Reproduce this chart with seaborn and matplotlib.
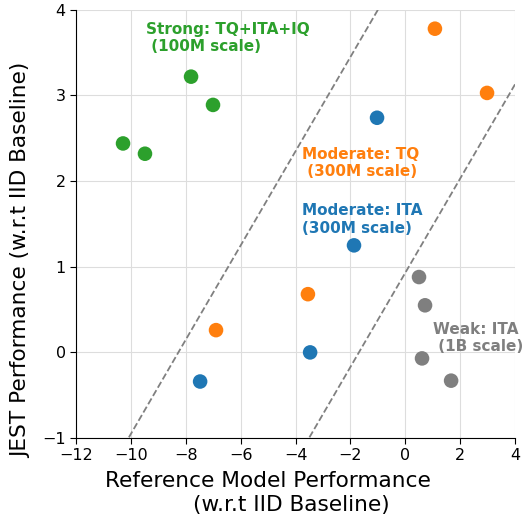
import matplotlib
matplotlib.use("Agg")
import matplotlib.pyplot as plt
import seaborn as sns
import numpy as np
import pandas as pd

groups = ["Strong", "Moderate TQ", "Moderate ITA", "Weak"]
strong_x = [-10.29, -9.49, -7.81, -7.01]
strong_y = [2.44, 2.32, 3.22, 2.89]
tq_x = [1.08, 2.98, -3.55, -6.90]
tq_y = [3.78, 3.03, 0.68, 0.26]
ita_x = [-1.03, -1.87, -3.47, -7.48]
ita_y = [2.74, 1.25, 0.00, -0.34]
weak_x = [0.50, 0.72, 0.61, 1.67]
weak_y = [0.88, 0.55, -0.07, -0.33]

line_slope = 0.55
line_intercepts = [4.55, 0.93]

labels = ["Strong: TQ+ITA+IQ\n (100M scale)", "Moderate: TQ\n (300M scale)",
          "Moderate: ITA\n(300M scale)", "Weak: ITA\n (1B scale)"]
colors = ["#2ca02c", "#ff7f0e", "#1f77b4", "#7f7f7f"]

df = pd.DataFrame({
    "x": strong_x + tq_x + ita_x + weak_x,
    "y": strong_y + tq_y + ita_y + weak_y,
    "g": [groups[0]] * 4 + [groups[1]] * 4 + [groups[2]] * 4 + [groups[3]] * 4,
})

sns.set_style("white")
plt.rcParams['font.family'] = ['DejaVu Sans']
plt.rcParams['text.color'] = 'black'
plt.rcParams['axes.labelcolor'] = 'black'
plt.rcParams['xtick.color'] = 'black'
plt.rcParams['ytick.color'] = 'black'
plt.rcParams['axes.edgecolor'] = 'black'
fig, ax = plt.subplots(figsize=(5.25, 5.19), dpi=100)
sns.scatterplot(data=df, x="x", y="y", hue="g", palette=colors, s=110,
                edgecolor="none", legend=False, ax=ax, zorder=3)

xs = np.array([-12, 4])
for b in line_intercepts:
    ax.plot(xs, line_slope * xs + b, ls="--", color="gray", lw=1.3, zorder=2)

ax.set_xlim(-12, 4)
ax.set_ylim(-1, 4)
ax.set_xticks(np.arange(-12, 5, 2))
ax.set_yticks(np.arange(-1, 5, 1))
ax.grid(True, color="#dddddd", lw=0.8, zorder=0)
ax.set_axisbelow(True)
for s in ["top", "right"]:
    ax.spines[s].set_visible(False)
ax.tick_params(axis="both", labelsize=11.5, length=4, direction="out", bottom=True, left=True)
ax.set_xlabel("Reference Model Performance" + " " * 7 + "\n(w.r.t IID Baseline)", fontsize=15.6)
ax.xaxis.set_label_coords(0.491, -0.078, transform=ax.transAxes)
ax.xaxis.label.set_va("top")
ax.set_ylabel("JEST Performance (w.r.t IID Baseline)", fontsize=15.6)
ax.yaxis.set_label_coords(-0.1253, 0.416, transform=ax.transAxes)
ax.yaxis.label.set_va("center")

ax.text(-9.45, 3.67, labels[0], color=colors[0], fontsize=11, fontweight="bold", va="center", ha="left")
ax.text(-3.76, 2.21, labels[1], color=colors[1], fontsize=11, fontweight="bold", va="center", ha="left")
ax.text(-3.76, 1.55, labels[2], color=colors[2], fontsize=11, fontweight="bold", va="center", ha="left")
ax.text(1.01, 0.17, labels[3], color=colors[3], fontsize=11, fontweight="bold", va="center", ha="left")

fig.subplots_adjust(left=0.145, right=0.981, top=0.981, bottom=0.156)
fig.savefig("out.png", dpi=100)
